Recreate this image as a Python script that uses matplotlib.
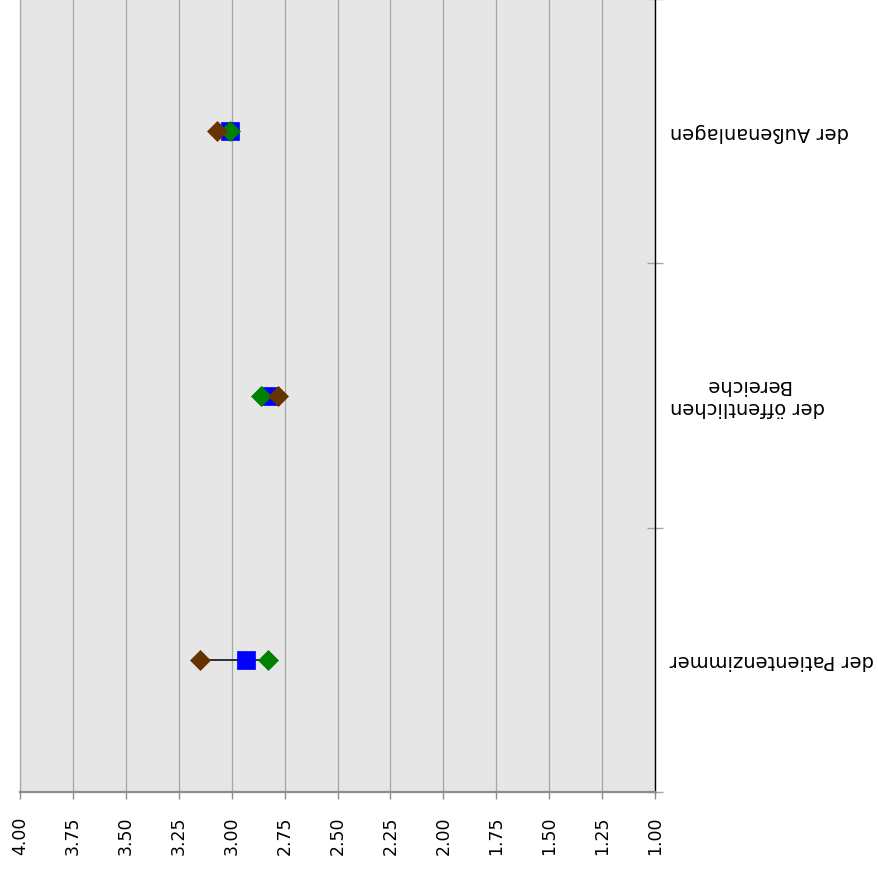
import matplotlib
matplotlib.use('Agg')
import matplotlib.pyplot as plt
import matplotlib.transforms as mtransforms

# ── data ──
CATEGORIES = ['der Patientenzimmer', 'der öffentlichen\nBereiche', 'der Außenanlagen']
VALS_BROWN = [3.15, 2.78, 3.07]
VALS_BLUE = [2.93, 2.82, 3.01]
VALS_GREEN = [2.83, 2.86, 3.01]
X_TICKS = [1.00, 1.25, 1.50, 1.75, 2.00, 2.25, 2.50, 2.75, 3.00, 3.25, 3.50, 3.75, 4.00]

C_BROWN = '#663300'
C_BLUE = '#0000ff'
C_GREEN = '#008000'
C_GRID = '#a6a6a6'

plt.rcParams['font.family'] = ['DejaVu Sans']

fig = plt.figure(figsize=(8.79, 8.70), dpi=100)
ax = fig.add_axes([20 / 879, 77 / 870, 635 / 879, 793 / 870])
ax.set_facecolor('#e6e6e6')

ypos = list(range(len(CATEGORIES)))

# high-low line between series
lows = [min(v) for v in zip(VALS_BROWN, VALS_BLUE, VALS_GREEN)]
highs = [max(v) for v in zip(VALS_BROWN, VALS_BLUE, VALS_GREEN)]
ax.hlines(ypos, lows, highs, color='black', lw=1.1, zorder=2)

ax.plot(VALS_BLUE, ypos, ls='none', marker='s', ms=13.5, color=C_BLUE,
        mec=C_BLUE, mew=0.5, zorder=3)
ax.plot(VALS_GREEN, ypos, ls='none', marker='D', ms=10, color=C_GREEN,
        mec=C_GREEN, mew=0.5, zorder=4)
ax.plot(VALS_BROWN, ypos, ls='none', marker='D', ms=10, color=C_BROWN,
        mec=C_BROWN, mew=0.5, zorder=5)

# x axis, reversed (4 -> 1)
ax.set_xlim(4.0, 1.0)
ax.set_xticks(X_TICKS)
ax.set_xticklabels([f'{t:.2f}' for t in X_TICKS], rotation=90, fontsize=12.5)
ax.tick_params(axis='x', direction='out', length=5, width=1, color='#8c8c8c', pad=12)
ax.xaxis.grid(True, color=C_GRID, lw=0.9)
ax.set_axisbelow(True)

# category axis on the right, ticks between categories
ax.set_ylim(-0.5, len(CATEGORIES) - 0.5)
ax.yaxis.tick_right()
ax.set_yticks([y - 0.5 for y in range(len(CATEGORIES) + 1)])
ax.set_yticklabels([])
ax.tick_params(axis='y', direction='inout', length=11, width=1, color=C_GRID)

trans = mtransforms.blended_transform_factory(ax.transAxes, ax.transData)
for y, lbl in zip(ypos, CATEGORIES):
    ax.text(1 + 15 / 635, y, lbl, transform=trans, rotation=180,
            ha='left', va='center', multialignment='center', fontsize=14)

ax.spines['top'].set_visible(False)
ax.spines['left'].set_color(C_GRID)
ax.spines['left'].set_linewidth(0.9)
ax.spines['bottom'].set_color('#8c8c8c')
ax.spines['bottom'].set_linewidth(1.6)
ax.spines['right'].set_color('black')
ax.spines['right'].set_linewidth(1.0)

fig.savefig('out.png', dpi=100, facecolor='white')
